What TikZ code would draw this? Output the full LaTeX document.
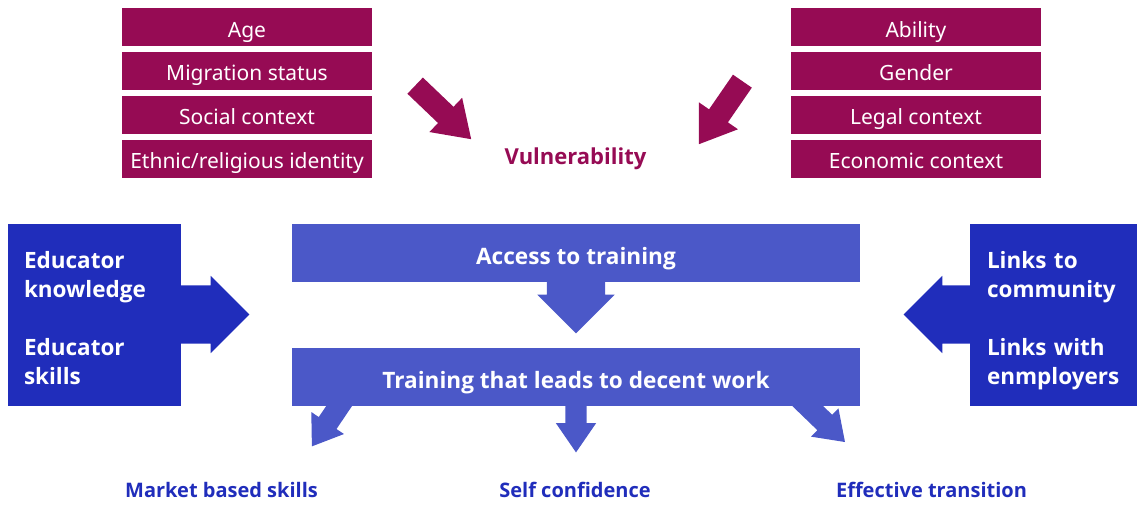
\documentclass[tikz,border=0pt]{standalone}
\usepackage{fontspec}
\setmainfont{Noto Sans}
\newfontfamily\strongfont{Open Sans}
\usetikzlibrary{shapes.arrows,positioning,backgrounds}
\definecolor{vulpurple}{RGB}{150,11,84}
\definecolor{deepblue}{RGB}{32,45,187}
\definecolor{softblue}{RGB}{75,88,200}

\begin{document}
\begin{tikzpicture}[x=1pt, y=-1pt, factor/.style = {rectangle, fill=vulpurple, text=white, minimum width=250pt, minimum height=38pt, inner sep=0pt, text height=20pt, text depth=0pt, font=\fontsize{21}{25}\selectfont}, stage/.style = {rectangle, fill=softblue, text=white, minimum width=568pt, minimum height=58pt, inner sep=0pt, text height=23pt, text depth=0pt, font=\strongfont\bfseries\fontsize{22.6}{26}\selectfont}, support/.style = {rectangle, fill=deepblue, text=white, minimum height=182pt, inner ysep=0pt, align=left, text height=22pt, text depth=116pt, font=\strongfont\bfseries\fontsize{22.5}{29}\selectfont}, fatarrow/.style = {single arrow, draw=none, inner xsep=0pt, anchor=tail}, outcome/.style = {text=deepblue, inner sep=0pt, anchor=base, font=\strongfont\bfseries\fontsize{20}{23}\selectfont}, node distance=5.5pt]
			\useasboundingbox (0,0) rectangle (1137,504);
			
			% factors of vulnerability
			\node[factor] (age) at (247,27) {Age};
			\node[factor,below=of age] (migration) {Migration status};
			\node[factor,below=of migration] (social) {Social context};
			\node[factor,below=of social] (ethnic) {Ethnic/religious identity};
			\node[factor] (ability) at (916,27) {Ability};
			\node[factor,below=of ability] (gender) {Gender};
			\node[factor,below=of gender] (legal) {Legal context};
			\node[factor,below=of legal] (economic) {Economic context};
			\node[text=vulpurple,anchor=base,inner sep=0pt,font=\strongfont\bfseries\fontsize{22}{25}\selectfont] (vulnerability) at (575.5,164) {Vulnerability};
			
			\node[fatarrow,fill=vulpurple,rotate=-43.7,minimum height=77.5pt,inner ysep=11pt,single arrow head extend=12.5pt,single arrow tip angle=68] (leftin) at (415,85.5) {};
			\node[fatarrow,fill=vulpurple,rotate=-124.6,minimum height=76.6pt,inner ysep=11.25pt,single arrow head extend=12.25pt,single arrow tip angle=69] (rightin) at (742.5,81) {};
			
			% training
			\node[stage] (access) at (576,253) {Access to training};
			\node[stage] (training) at (576,377) {Training that leads to decent work};
			\node[support,text width=141pt,inner xsep=16pt] (educator) at (94.5,315) {Educator\\knowledge\\[29pt]Educator\\skills};
			\node[support,text width=133pt,inner xsep=17pt] (links) at (1053.5,315) {Links to\\community\\[29pt]Links with\\enmployers};
			
			\begin{scope}[on background layer]
			\node[fatarrow,fill=softblue,rotate=-90,minimum height=68pt,inner ysep=29pt,single arrow head extend=9.5pt] (accessdown) at ([yshift=17pt]access.south) {};
			\node[fatarrow,fill=deepblue,minimum height=99pt,inner ysep=29pt,single arrow head extend=9.5pt] (educatorin) at ([xshift=-31pt,yshift=0.5pt]educator.east) {};
			\node[fatarrow,fill=deepblue,rotate=180,minimum height=96pt,inner ysep=29pt,single arrow head extend=9.5pt] (linksin) at ([xshift=30pt,yshift=0.5pt]links.west) {};
			\node[fatarrow,fill=softblue,rotate=-124,minimum height=61.5pt,inner ysep=10.5pt,single arrow head extend=9pt,single arrow tip angle=70] (toskills) at ([xshift=-229.6pt,yshift=11pt]training.south) {};
			\node[fatarrow,fill=softblue,rotate=-90,minimum height=57pt,inner ysep=10.5pt,single arrow head extend=9.5pt,single arrow tip angle=69] (toconfidence) at ([yshift=11pt]training.south) {};
			\node[fatarrow,fill=softblue,rotate=-44,minimum height=67.2pt,inner ysep=10.5pt,single arrow head extend=9pt,single arrow tip angle=70] (totransition) at ([xshift=220.5pt,yshift=11pt]training.south) {};
			\end{scope}
			
			% outcomes
			\node[outcome] (market) at (221.5,497) {Market based skills};
			\node[outcome] (confidence) at (575,497) {Self confidence};
			\node[outcome] (transition) at (931.5,497) {Effective transition};
\end{tikzpicture}
\end{document}
